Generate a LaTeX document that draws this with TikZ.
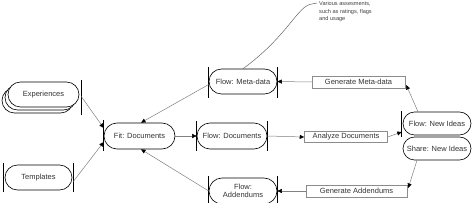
\documentclass[tikz,border=0pt]{standalone}
\usepackage{fontspec}
\setmainfont{Liberation Sans}
\usetikzlibrary{shapes.misc,arrows.meta,calc}
\begin{document}
\begin{tikzpicture}[x=1pt,y=-1pt,
  stad/.style={rounded rectangle, draw=black, line width=0.6pt, fill=white,
    minimum width=72pt, minimum height=25pt, inner sep=1pt, text=black!80,
    font=\fontsize{7.5}{8.5}\selectfont, align=center},
  procbox/.style={rectangle, draw=black!45, line width=0.5pt, fill=white,
    minimum width=92pt, minimum height=12pt, inner sep=1pt, text=black!80,
    font=\fontsize{7.5}{8.5}\selectfont},
  conn/.style={draw=black!50, line width=0.5pt,
    -{Triangle[length=4.5pt,width=4pt,color=black]}},
  bar/.style={draw=black, line width=0.8pt},
  notetext/.style={font=\fontsize{5.6}{7.4}\selectfont, align=left, inner sep=0pt,
    anchor=north west, text=black!75}
]
\useasboundingbox (0,0) rectangle (474,203);

% Experiences stack
\node[stad, minimum width=73pt] (exp3) at (37.5,100.5) {};
\node[stad, minimum width=73pt] (exp2) at (40.5,97.5) {};
\node[stad, minimum width=73pt] (exp) at (43.5,94.5) {Experiences};
\node[stad, minimum width=69pt] (tpl) at (38.5,177.5) {Templates};
\node[stad, minimum width=73pt, minimum height=26pt] (fit) at (139.5,136) {Fit: Documents};
\node[stad, minimum height=26pt] (fdoc) at (232,136) {Flow: Documents};
\node[stad, minimum width=70pt] (meta) at (243,81.5) {Flow: Meta-data};
\node[stad, minimum width=70pt, minimum height=26pt] (add) at (243,191) {Flow:\\Addendums};
\node[procbox, minimum width=93pt] (gmeta) at (358.5,82) {Generate Meta-data};
\node[procbox, minimum width=83pt, minimum height=11pt] (ana) at (346,137) {Analyze Documents};
\node[procbox, minimum width=101pt] (gadd) at (356.5,191) {Generate Addendums};
\node[stad, minimum width=70pt, minimum height=23pt] (ideas) at (437,123.5) {Flow: New Ideas};
\node[stad, minimum width=70pt, minimum height=23pt] (share) at (437,148.5) {Share: New Ideas};

% bars
\draw[bar] ([xshift=2pt,yshift=14.5pt]exp.east) -- ++(0,35);
\draw[bar] ([xshift=-1.5pt,yshift=14.5pt]tpl.west) -- ++(0,29);
\draw[bar] ([xshift=1pt,yshift=14.5pt]tpl.east) -- ++(0,29);
\draw[bar] ([yshift=16pt]fit.west) -- ++(0,31);
\draw[bar] ([yshift=15pt]fdoc.west) -- ++(0,30);
\draw[bar] ([yshift=15pt]fdoc.east) -- ++(0,30);
\draw[bar] ([yshift=14.5pt]meta.west) -- ++(0,31);
\draw[bar] ([yshift=14.5pt]meta.east) -- ++(0,31);
\draw[bar] ([yshift=15pt]add.west) -- ++(0,30);
\draw[bar] ([yshift=15pt]add.east) -- ++(0,30);
\draw[bar] ([xshift=-1pt,yshift=12.5pt]ideas.west) -- ++(0,26);

% connectors
\draw[conn] ([xshift=2pt,yshift=-2pt]exp.east) -- ([yshift=8pt]fit.west);
\draw[conn] ([xshift=1pt,yshift=-4pt]tpl.east) -- ([yshift=-6pt]fit.west);
\draw[conn] ([yshift=-3pt]meta.west) -- ([xshift=1.5pt]fit.north);
\draw[conn] (add.west) -- ([xshift=1.5pt]fit.south);
\draw[conn] (fit.east) -- (fdoc.west);
\draw[conn] (fdoc.east) -- (ana.west);
\draw[conn] (ana.east) -- ([xshift=-1pt,yshift=-8.5pt]ideas.west);
\draw[conn] (gmeta.west) -- (meta.east);
\draw[conn] ([xshift=-19pt]ideas.north) -- ([xshift=1pt,yshift=-3pt]gmeta.east);
\draw[conn] (gadd.west) -- (add.east);
\draw[conn] ([xshift=-20pt]share.south) -- ([xshift=1pt,yshift=3pt]gadd.east);

% annotation
\coordinate (annot) at (312,4);
\coordinate (annotend) at (317,3);
\draw[draw=black!60, line width=0.5pt] (meta.north) .. controls (288,36) and (298,5) .. (annot) -- (annotend);
\node[notetext] (note) at (319,1.5) {Various assesments,\\such as ratings, flags\\and usage};
\end{tikzpicture}
\end{document}
